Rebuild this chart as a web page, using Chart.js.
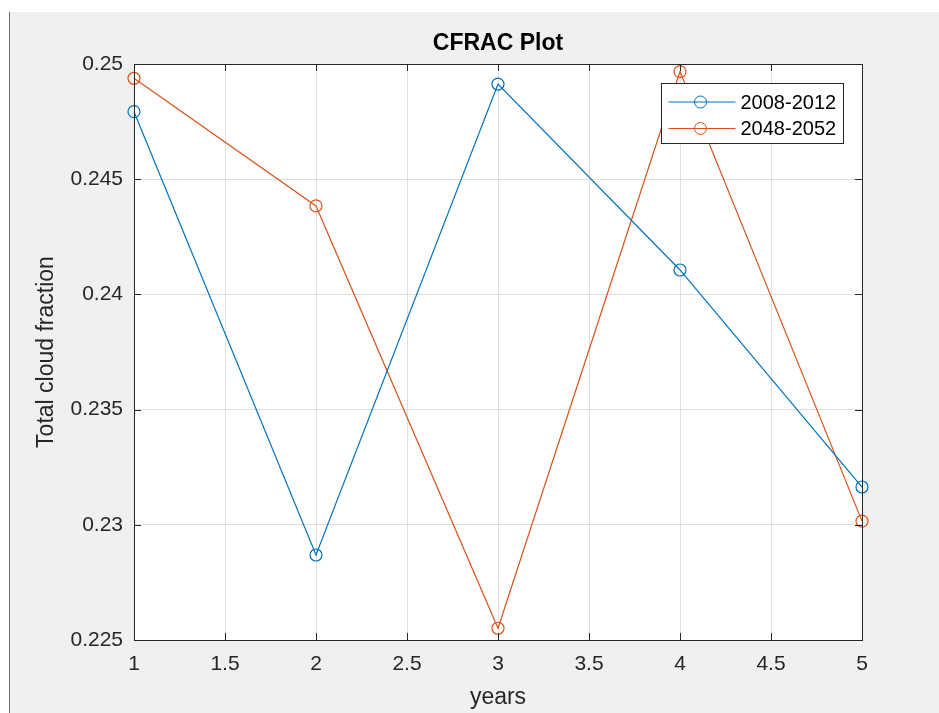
<!DOCTYPE html>
<html>
<head>
<meta charset="utf-8">
<title>CFRAC Plot</title>
<script src="https://cdn.jsdelivr.net/npm/chart.js@4.4.1/dist/chart.umd.min.js"></script>
<style>
    html, body { margin: 0; padding: 0; background: #ffffff; }
    body { width: 939px; height: 713px; position: relative; overflow: hidden; }
    #frame {
        position: absolute; left: 9px; top: 12px; width: 930px; height: 701px;
        background: #f0f0f0; border-left: 1px solid #6a6a6a; box-sizing: border-box;
    }
    canvas { display: block; }
</style>
</head>
<body>
<div id="frame"><canvas id="cfracChart" width="929" height="701"></canvas></div>
<script>
const years = [1, 2, 3, 4, 5];
const seriesNames = ['2008-2012', '2048-2052'];
const cfrac2008 = [0.24793, 0.22869, 0.24913, 0.24106, 0.23164];
const cfrac2048 = [0.24938, 0.24384, 0.22551, 0.24967, 0.23016];
const xTickLabels = ['1', '1.5', '2', '2.5', '3', '3.5', '4', '4.5', '5'];
const yTickLabels = ['0.225', '0.23', '0.235', '0.24', '0.245', '0.25'];

const FONT = '"Liberation Sans", Arial, Helvetica, sans-serif';
const AXIS_COLOR = '#262626';
const colors = ['#0072BD', '#D95319'];

function toPoints(values) {
    return years.map((yr, i) => ({ x: yr, y: values[i] }));
}

// white axes background, box, inner tick marks, title and legend the way MATLAB draws them
const matlabAxes = {
    id: 'matlabAxes',
    beforeDraw(chart) {
        const { ctx, chartArea: a } = chart;
        ctx.save();
        ctx.fillStyle = '#ffffff';
        ctx.fillRect(a.left, a.top, a.right - a.left, a.bottom - a.top);
        ctx.restore();
    },
    afterDatasetsDraw(chart) {
        const { ctx, chartArea: a, scales } = chart;
        ctx.save();
        ctx.strokeStyle = AXIS_COLOR;
        ctx.lineWidth = 1;
        ctx.beginPath();
        scales.x.ticks.forEach(t => {
            const px = Math.round(scales.x.getPixelForValue(t.value)) + 0.5;
            ctx.moveTo(px, a.bottom); ctx.lineTo(px, a.bottom - 7);
            ctx.moveTo(px, a.top); ctx.lineTo(px, a.top + 7);
        });
        scales.y.ticks.forEach(t => {
            const py = Math.round(scales.y.getPixelForValue(t.value)) + 0.5;
            ctx.moveTo(a.left, py); ctx.lineTo(a.left + 7, py);
            ctx.moveTo(a.right, py); ctx.lineTo(a.right - 7, py);
        });
        ctx.stroke();
        ctx.strokeRect(Math.round(a.left) + 0.5, Math.round(a.top) + 0.5,
            Math.round(a.right - a.left), Math.round(a.bottom - a.top));
        ctx.restore();
    },
    afterDraw(chart) {
        const { ctx, chartArea: a } = chart;
        ctx.save();
        // title
        ctx.fillStyle = '#000000';
        ctx.font = 'bold 23px ' + FONT;
        ctx.textAlign = 'center';
        ctx.textBaseline = 'middle';
        ctx.fillText('CFRAC Plot', (a.left + a.right) / 2, 32);

        // legend
        const w = 182, h = 60;
        const bx = Math.round(a.right - 19 - w) + 0.5;
        const by = Math.round(a.top + 19) + 0.5;
        ctx.fillStyle = '#ffffff';
        ctx.fillRect(bx, by, w, h);
        ctx.strokeStyle = AXIS_COLOR;
        ctx.lineWidth = 1;
        ctx.strokeRect(bx, by, w, h);
        ctx.font = '20px ' + FONT;
        ctx.textAlign = 'left';
        chart.data.datasets.forEach((ds, i) => {
            const cy = by + 18.5 + i * 26.5;
            ctx.strokeStyle = ds.borderColor;
            ctx.beginPath();
            ctx.moveTo(bx + 7, cy); ctx.lineTo(bx + 74, cy);
            ctx.stroke();
            ctx.beginPath();
            ctx.arc(bx + 39, cy, 6, 0, Math.PI * 2);
            ctx.stroke();
            ctx.fillStyle = '#000000';
            ctx.fillText(ds.label, bx + 79, cy + 1);
        });
        ctx.restore();
    }
};

new Chart(document.getElementById('cfracChart'), {
    type: 'line',
    data: {
        datasets: [cfrac2008, cfrac2048].map((vals, i) => ({
            label: seriesNames[i],
            data: toPoints(vals),
            borderColor: colors[i],
            borderWidth: 1.2,
            backgroundColor: 'transparent',
            pointRadius: 6,
            pointBorderWidth: 1.2,
            pointBorderColor: colors[i],
            pointBackgroundColor: 'transparent',
            tension: 0,
            clip: false
        }))
    },
    options: {
        responsive: false,
        animation: false,
        events: [],
        layout: { padding: { top: 52, right: 77, left: 0, bottom: 0 } },
        plugins: {
            legend: { display: false },
            title: { display: false },
            tooltip: { enabled: false }
        },
        scales: {
            x: {
                type: 'linear',
                min: 1,
                max: 5,
                afterFit(scale) { scale.height = 73; },
                ticks: {
                    stepSize: 0.5,
                    padding: 12,
                    color: AXIS_COLOR,
                    font: { family: FONT, size: 21 },
                    maxRotation: 0,
                    callback: (v, i) => xTickLabels[i]
                },
                grid: { color: '#dfdfdf', lineWidth: 1, drawTicks: false },
                border: { color: AXIS_COLOR, width: 1 },
                title: {
                    display: true,
                    text: 'years',
                    color: AXIS_COLOR,
                    font: { family: FONT, size: 23, lineHeight: 1 },
                    padding: { top: 0, bottom: 4 }
                }
            },
            y: {
                min: 0.225,
                max: 0.25,
                afterFit(scale) { scale.width = 124; },
                ticks: {
                    stepSize: 0.005,
                    padding: 11,
                    color: AXIS_COLOR,
                    font: { family: FONT, size: 21 },
                    callback: (v, i) => yTickLabels[i]
                },
                grid: { color: '#dfdfdf', lineWidth: 1, drawTicks: false },
                border: { color: AXIS_COLOR, width: 1 },
                title: {
                    display: true,
                    text: 'Total cloud fraction',
                    color: AXIS_COLOR,
                    font: { family: FONT, size: 23, lineHeight: 1 },
                    padding: { top: 25, bottom: 0 }
                }
            }
        }
    },
    plugins: [matlabAxes]
});
</script>
</body>
</html>
